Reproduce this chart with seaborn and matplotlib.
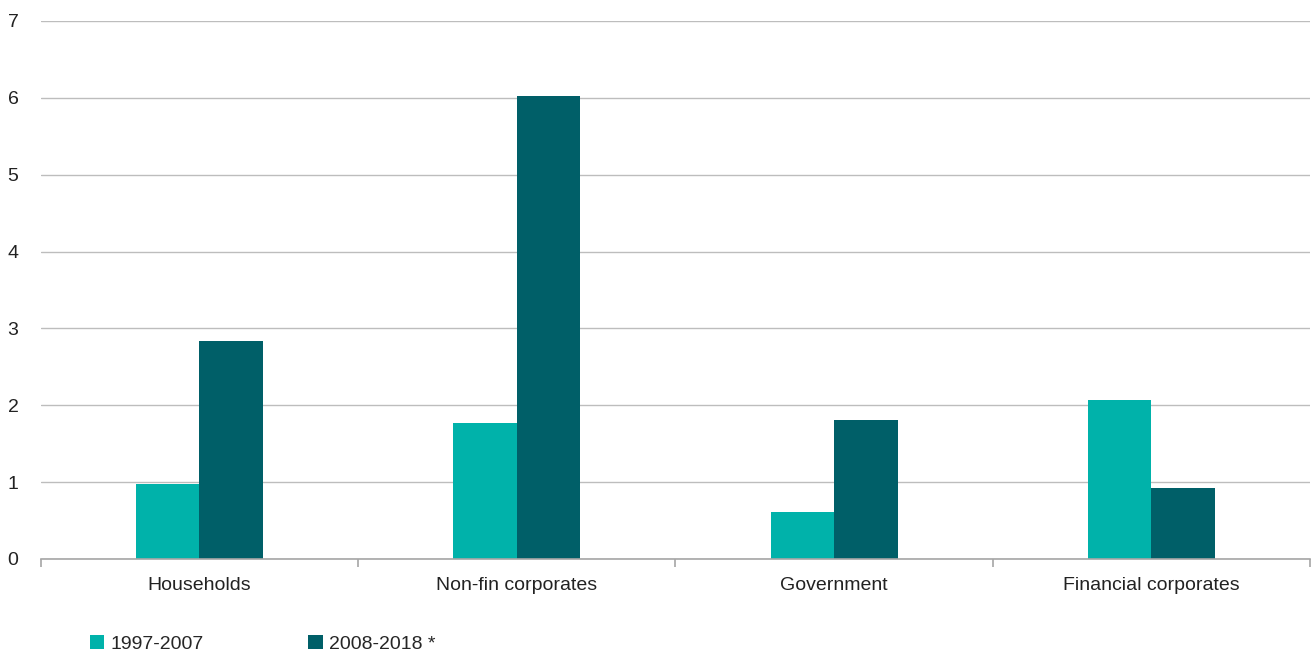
import matplotlib
matplotlib.use("Agg")
import matplotlib.pyplot as plt
import pandas as pd
import seaborn as sns
from matplotlib.patches import Patch
from matplotlib.ticker import FixedLocator

sectors = ["Households", "Non-fin corporates", "Government", "Financial corporates"]
periods = ["1997-2007", "2008-2018 *"]
values_1997_2007 = [0.98, 1.77, 0.61, 2.07]
values_2008_2018 = [2.84, 6.03, 1.81, 0.92]
y_ticks = [0, 1, 2, 3, 4, 5, 6, 7]

colors = ["#00B2AA", "#005F68"]

df = pd.DataFrame(
    {
        "sector": sectors * 2,
        "period": [periods[0]] * 4 + [periods[1]] * 4,
        "value": values_1997_2007 + values_2008_2018,
    }
)

sns.set_theme(style="white")
plt.rcParams["font.family"] = ["Liberation Sans", "DejaVu Sans"]

fig = plt.figure(figsize=(13.14, 6.56), dpi=100)
ax = fig.add_axes([0.031, 0.148, 0.966, 0.820])

sns.barplot(
    data=df,
    x="sector",
    y="value",
    hue="period",
    order=sectors,
    hue_order=periods,
    palette=colors,
    width=0.4,
    saturation=1,
    linewidth=0,
    legend=False,
    ax=ax,
)

ax.set_ylim(0, 7)
ax.set_xlim(-0.5, len(sectors) - 0.5)
ax.set_yticks(y_ticks)
ax.yaxis.grid(True, color="#BDBDBD", linewidth=1)
ax.set_axisbelow(True)
ax.set_xlabel("")
ax.set_ylabel("")

for side in ["top", "right", "left"]:
    ax.spines[side].set_visible(False)
ax.spines["bottom"].set_color("#A6A6A6")
ax.spines["bottom"].set_linewidth(1.2)

ax.tick_params(axis="y", length=0, labelsize=14, colors="#222222", pad=16)
ax.tick_params(axis="x", which="major", length=0, labelsize=14, colors="#222222", pad=13)
ax.xaxis.set_minor_locator(FixedLocator([i - 0.5 for i in range(len(sectors) + 1)]))
ax.tick_params(axis="x", which="minor", length=6, width=1.2, color="#A6A6A6", bottom=True)

handles = [Patch(facecolor=c, edgecolor="none") for c in colors]
fig.legend(
    handles,
    periods,
    loc="lower left",
    bbox_to_anchor=(0.055, -0.022),
    ncol=2,
    frameon=False,
    fontsize=14,
    handlelength=0.75,
    handleheight=0.75,
    handletextpad=0.3,
    columnspacing=5.4,
)

fig.savefig("out.png", dpi=100)
